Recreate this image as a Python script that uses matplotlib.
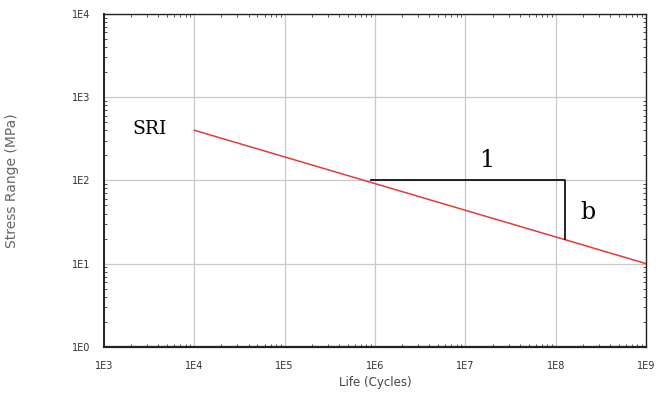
import matplotlib.pyplot as plt
from matplotlib.ticker import LogLocator, FixedLocator

# S-N curve endpoints (Life cycles, Stress range MPa)
life = [1e4, 1e9]
stress = [400, 10]

# slope triangle
tri_x = [9e5, 1.26e8, 1.26e8]
tri_y = [100, 100, 20]

xticks = [1e3, 1e4, 1e5, 1e6, 1e7, 1e8, 1e9]
xlabels = ["1E3", "1E4", "1E5", "1E6", "1E7", "1E8", "1E9"]
yticks = [1e0, 1e1, 1e2, 1e3, 1e4]
ylabels = ["1E0", "1E1", "1E2", "1E3", "1E4"]

fig = plt.figure(figsize=(6.62, 3.96), dpi=100)
ax = fig.add_axes([0.157, 0.124, 0.819, 0.841])
ax.set_xscale('log')
ax.set_yscale('log')
ax.set_xlim(1e3, 1e9)
ax.set_ylim(1e0, 1e4)

ax.plot(life, stress, color='#e03c3c', linewidth=1.1)
ax.plot(tri_x, tri_y, color='black', linewidth=1.2)

ax.text(1.7e7, 175, "1", fontsize=17, family='DejaVu Serif', ha='center', va='center')
ax.text(1.85e8, 41, "b", fontsize=17, family='DejaVu Serif', ha='left', va='center')
ax.text(3.2e3, 410, "SRI", fontsize=13.5, family='DejaVu Serif', ha='center', va='center')

ax.xaxis.set_major_locator(FixedLocator(xticks))
ax.set_xticklabels(xlabels)
ax.yaxis.set_major_locator(FixedLocator(yticks))
ax.set_yticklabels(ylabels)
ax.xaxis.set_minor_locator(LogLocator(base=10, subs=range(2, 10)))
ax.yaxis.set_minor_locator(LogLocator(base=10, subs=range(2, 10)))
ax.tick_params(which='both', direction='in', labelsize=7, colors='#333333',
               top=True, right=True)
ax.tick_params(which='major', length=0, pad=10)
ax.tick_params(which='minor', length=2.5, width=0.6)

ax.grid(True, which='major', color='#c8c8c8', linewidth=0.9)
for s in ax.spines.values():
    s.set_color('#222222')
    s.set_linewidth(1.0)
ax.spines['bottom'].set_linewidth(1.6)
ax.spines['left'].set_linewidth(1.4)

ax.set_xlabel("Life (Cycles)", fontsize=8.5, color='#444444', labelpad=4)
ax.set_ylabel("Stress Range (MPa)", fontsize=10, color='#666666', labelpad=38)

fig.savefig("out.png", dpi=100)
